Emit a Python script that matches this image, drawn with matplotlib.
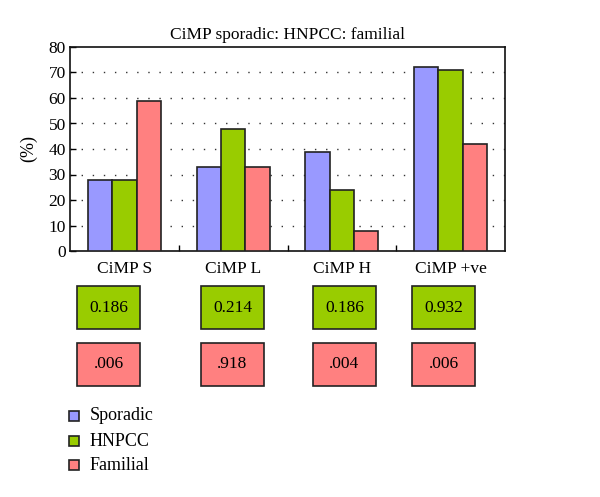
import numpy as np
import matplotlib
matplotlib.use('Agg')
from matplotlib import pyplot as plt
from matplotlib.patches import Rectangle

plt.rcParams['font.family'] = ['Liberation Serif', 'DejaVu Serif']

categories = ['CiMP S', 'CiMP L', 'CiMP H', 'CiMP +ve']
series_names = ['Sporadic', 'HNPCC', 'Familial']
sporadic = [28, 33, 39, 72]
hnpcc = [28, 48, 24, 71]
familial = [59, 33, 8, 42]
hnpcc_p = ['0.186', '0.214', '0.186', '0.932']
familial_p = ['.006', '.918', '.004', '.006']

colors = ['#9999FF', '#99CC00', '#FF8080']
edge = '#222222'

fig = plt.figure(figsize=(6.0, 4.97), dpi=100)
ax = fig.add_axes([70 / 600, 1 - 251 / 497, 435 / 600, 204 / 497])

x = np.arange(len(categories))
width = 0.224
for k, vals in enumerate([sporadic, hnpcc, familial]):
    ax.bar(x + (k - 1) * width, vals, width, color=colors[k], edgecolor=edge,
           linewidth=1.2, zorder=3, label=series_names[k])

ax.set_xlim(-0.5, len(categories) - 0.5)
ax.set_ylim(0, 80)
ax.set_yticks(range(0, 81, 10))
ax.set_xticks(x)
ax.set_xticklabels(categories, fontsize=12.5)
ax.set_xticks(x[:-1] + 0.5, minor=True)
ax.tick_params(axis='x', which='major', length=0, pad=7)
ax.tick_params(axis='x', which='minor', direction='in', length=4, width=1)
ax.tick_params(axis='y', direction='in', length=4, width=1, labelsize=12.5, pad=3)
for yv in range(10, 80, 10):
    ax.axhline(yv, color='#333333', linestyle=(0, (1, 7)), linewidth=1, zorder=1)
for s in ax.spines.values():
    s.set_linewidth(1.2)
    s.set_color('#111111')
ax.set_ylabel('(%)', fontsize=13, labelpad=8)
ax.set_title('CiMP sporadic: HNPCC: familial', fontsize=12.5, pad=6)

# p-value boxes under each group
box_x = [77, 201, 313, 412]
box_w, box_h = 63, 43
rows = [(hnpcc_p, colors[1], 286), (familial_p, colors[2], 343)]
for labels, col, top in rows:
    for bx, lab in zip(box_x, labels):
        fig.patches.append(Rectangle((bx / 600, 1 - (top + box_h) / 497), box_w / 600, box_h / 497,
                                     transform=fig.transFigure, facecolor=col,
                                     edgecolor=edge, linewidth=1.2))
        fig.text((bx + box_w / 2) / 600, 1 - (top + box_h / 2) / 497, lab,
                 ha='center', va='center', fontsize=12.5)

# legend
leg_y = [416, 441, 465]
for name, col, ly in zip(series_names, colors, leg_y):
    fig.patches.append(Rectangle((69 / 600, 1 - (ly + 5) / 497), 10 / 600, 10 / 497,
                                 transform=fig.transFigure, facecolor=col,
                                 edgecolor=edge, linewidth=1.2))
    fig.text(90 / 600, 1 - ly / 497, name, ha='left', va='center', fontsize=13)

fig.savefig('out.png', dpi=100)
